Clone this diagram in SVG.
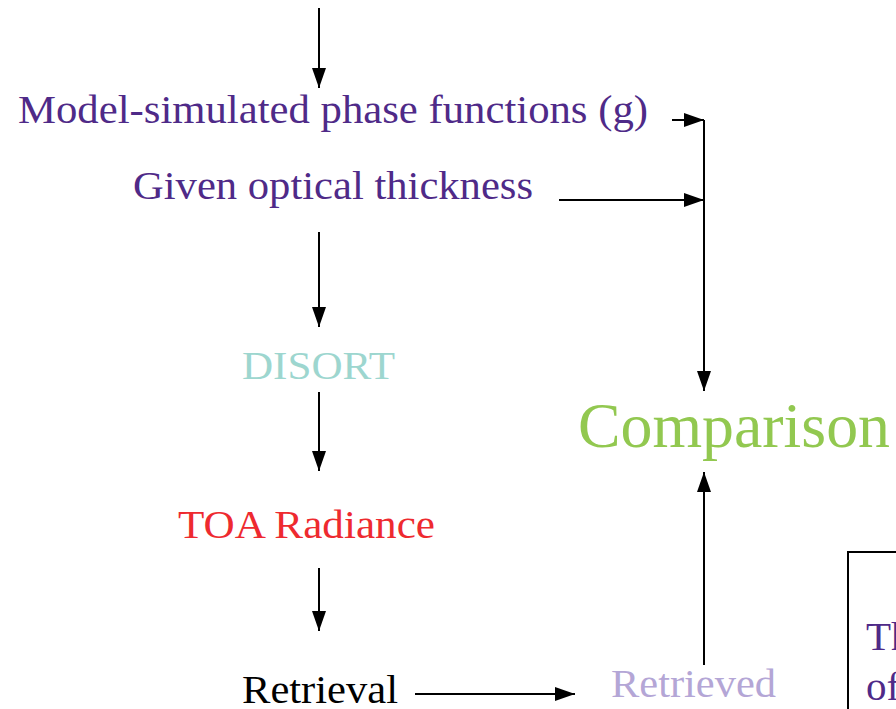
<svg xmlns="http://www.w3.org/2000/svg" width="896" height="709" viewBox="0 0 896 709">
<style>
text{font-family:"Liberation Serif","Times New Roman",serif}
.t{font-size:41px}
.c{stroke:#000;stroke-width:2;fill:none}
</style>
<defs>
<marker id="b" viewBox="0 0 20 14" refX="20" refY="7" markerWidth="20" markerHeight="14" markerUnits="userSpaceOnUse" orient="auto">
<path d="M0,0L20,7L0,14z" fill="#000"/>
</marker>
</defs>
<rect width="896" height="709" fill="#fff"/>
<g id="connectors">
<line class="c" x1="319" y1="8" x2="319" y2="88" marker-end="url(#b)"/>
<line class="c" x1="672" y1="120" x2="704" y2="120" marker-end="url(#b)"/>
<line class="c" x1="559" y1="200" x2="704" y2="200" marker-end="url(#b)"/>
<line class="c" x1="704" y1="120" x2="704" y2="391" marker-end="url(#b)"/>
<line class="c" x1="319" y1="232" x2="319" y2="327" marker-end="url(#b)"/>
<line class="c" x1="319" y1="392" x2="319" y2="471" marker-end="url(#b)"/>
<line class="c" x1="319" y1="568" x2="319" y2="631" marker-end="url(#b)"/>
<line class="c" x1="415" y1="694" x2="575" y2="694" marker-end="url(#b)"/>
<line class="c" x1="704" y1="665" x2="704" y2="472" marker-end="url(#b)"/>
</g>
<g id="model"><text class="t" x="18" y="123" textLength="630" lengthAdjust="spacingAndGlyphs" fill="#4f2a88">Model-simulated phase functions (g)</text></g>
<g id="given"><text class="t" x="133" y="199" textLength="400" lengthAdjust="spacingAndGlyphs" fill="#4f2a88">Given optical thickness</text></g>
<g id="disort"><text class="t" x="242" y="379" textLength="153" lengthAdjust="spacingAndGlyphs" fill="#9dd6cf">DISORT</text></g>
<g id="toa"><text class="t" x="178" y="538" textLength="257" lengthAdjust="spacingAndGlyphs" fill="#ee2a2f">TOA Radiance</text></g>
<g id="retrieval"><text class="t" x="242" y="703" textLength="156" lengthAdjust="spacingAndGlyphs" fill="#000">Retrieval</text></g>
<g id="retrieved"><text class="t" x="611" y="697" textLength="165" lengthAdjust="spacingAndGlyphs" fill="#b4a6d6">Retrieved</text></g>
<g id="comparison"><text x="578" y="447" font-size="64" textLength="312" lengthAdjust="spacingAndGlyphs" fill="#92c850">Comparison</text></g>
<g id="box">
<rect x="848" y="552" width="60" height="170" fill="none" stroke="#000" stroke-width="2"/>
<text class="t" x="866" y="650" fill="#4f2a88">Th</text>
<text class="t" x="866" y="700" fill="#4f2a88">of</text>
</g>
</svg>
